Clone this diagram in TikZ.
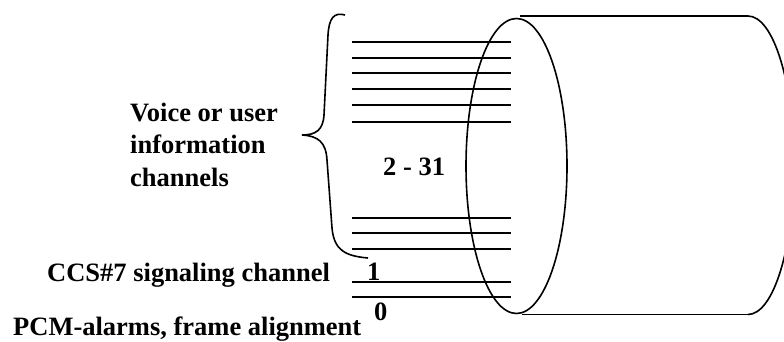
\documentclass[tikz,border=0pt]{standalone}
\usepackage{fontspec}
\setmainfont{Liberation Serif}
\begin{document}
\begin{tikzpicture}[x=1pt,y=-1pt,
  chan/.style={line width=2pt},
  outline/.style={line width=1.6pt},
  lbl/.style={font=\fontsize{26.5}{32.5}\selectfont\bfseries, inner sep=0pt, anchor=base west, align=left}]
\useasboundingbox (0,0) rectangle (784,342);
\clip (0,0) rectangle (784,342);
% channel lines
\foreach \y in {42,58,73,89,105,122,218,233,249,282,297}
  \draw[chan] (352,\y) -- (511,\y);
% brace
\draw[outline] (345,15) .. controls (334,12) and (329,18) .. (328,35)
  -- (324,115) .. controls (323,130) and (316,135) .. (302,135)
  .. controls (318,136) and (326,142) .. (327,160)
  -- (332,228) .. controls (334,250) and (345,256) .. (368,258);
% cylinder
\draw[outline] (516.5,166) ellipse [x radius=50.5, y radius=147.5];
\draw[outline] (520,16) -- (748,16);
\draw[outline] (522,314.5) -- (750,314.5);
\draw[outline] (748,16) arc[start angle=-90, end angle=90, x radius=46, y radius=149.25];
% labels
\node[lbl] (voice) at (130,186) {Voice or user\\information\\channels};
\node[lbl] (range) at (383,175) {2 - 31};
\node[lbl] (one) at (367,280) {1};
\node[lbl] (zero) at (374,320) {0};
\node[lbl] (ccs) at (47,281) {CCS\#7 signaling channel};
\node[lbl] (pcm) at (13,335) {PCM-alarms, frame alignment};
\end{tikzpicture}
\end{document}
